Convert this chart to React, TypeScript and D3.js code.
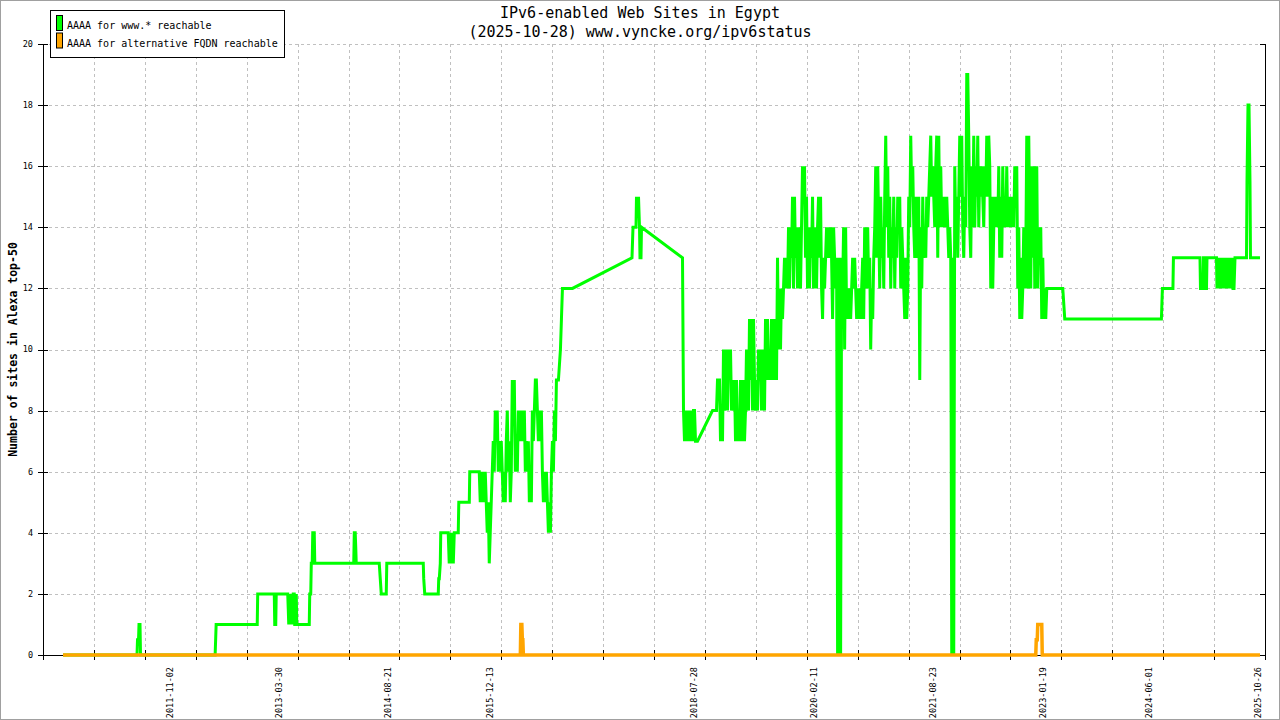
import React, { useRef, useEffect } from "react";
import * as d3 from "d3";

type Pt = [number, number]; // [decimal year, sites]

const titleLines = [
  "IPv6-enabled Web Sites in Egypt",
  "(2025-10-28) www.vyncke.org/ipv6status",
];
const yAxisTitle = "Number of sites in Alexa top-50";
const seriesNames = ["AAAA for www.* reachable", "AAAA for alternative FQDN reachable"];
const seriesColors = ["#00ff00", "#ffa500"];

const xTickLabels = [
  "2011-11-02",
  "2013-03-30",
  "2014-08-21",
  "2015-12-13",
  "2018-07-28",
  "2020-02-11",
  "2021-08-23",
  "2023-01-19",
  "2024-06-01",
  "2025-10-26",
];
const yTicks = [0, 2, 4, 6, 8, 10, 12, 14, 16, 18, 20];
const xRange = [2010.2025, 2025.9067]; // decimal years
const gridCount = 24;

// samples in the dense parts come roughly every 4.7 days
const sampleStep = 0.012862;

// www.* reachable, sparse parts as [year, value]
const wwwEarly: Pt[] = [
  [2010.46, 0], [2011.4115, 0], [2011.418, 0.5], [2011.431, 0.5], [2011.437, 1],
  [2011.45, 1], [2011.4565, 0], [2012.415, 0], [2012.428, 1], [2012.955, 1],
  [2012.961, 2], [2013.174, 2], [2013.18, 1], [2013.193, 1], [2013.199, 2],
  [2013.347, 2], [2013.354, 1.5], [2013.36, 1], [2013.373, 2], [2013.379, 1],
  [2013.392, 2], [2013.405, 1], [2013.418, 2], [2013.431, 2], [2013.437, 1],
  [2013.45, 1], [2013.457, 2], [2013.463, 1], [2013.624, 1], [2013.63, 2],
  [2013.643, 2], [2013.65, 3], [2013.662, 3], [2013.669, 4], [2013.688, 4],
  [2013.695, 3], [2014.196, 3], [2014.203, 4], [2014.215, 4], [2014.222, 3.5],
  [2014.228, 3], [2014.524, 3], [2014.537, 2.5], [2014.55, 2], [2014.614, 2],
  [2014.621, 3], [2015.09, 3], [2015.096, 2.5], [2015.109, 2], [2015.283, 2],
  [2015.289, 2.5], [2015.296, 2.5], [2015.309, 3], [2015.315, 4], [2015.411, 4],
  [2015.424, 3], [2015.437, 4], [2015.45, 3], [2015.463, 4], [2015.476, 3],
  [2015.489, 4], [2015.54, 4], [2015.547, 5], [2015.682, 5], [2015.688, 6],
  [2015.797, 6],
];

const dense2016Start = 2015.81;
const dense2016 = [
  6, 5, 6, 5, 6, 5, 6, 5, 4, 5,
  3, 4, 5, 6, 7, 6, 8, 7, 8, 6,
  7, 6, 7, 6, 5, 6, 5, 7, 8, 6,
  7, 5, 6, 9, 8, 9, 6, 7, 6, 8,
  7, 8, 7, 8, 7, 8, 6, 7, 6, 7,
  5, 6, 5, 8, 7, 8, 9, 9, 8, 7,
  8, 7, 8, 6, 5, 6, 5, 6, 5, 4,
  5, 4, 6, 7, 6, 8, 7, 9, 9, 9,
  9.5, 10, 11, 12,
];

const wwwMid: Pt[] = [
  [2017.0064, 12], [2017.7716, 13], [2017.7845, 14], [2017.8231, 14], [2017.8295, 15],
  [2017.8424, 14.5], [2017.8552, 15], [2017.8681, 14], [2017.8745, 13], [2017.8874, 13],
  [2017.8938, 14], [2018.4211, 13],
];

const dense2018Start = 2018.434;
const dense2018 = [8, 7, 8, 7, 8, 7, 8, 7, 8, 7, 8, 8, 7, 7, 7];

const wwwMid2: Pt[] = [[2018.807, 8]];

const dense2019Start = 2018.8584;
const dense2019 = [
  8, 9, 9, 9, 7, 8, 7, 10, 8, 9,
  10, 8, 10, 9, 10, 8, 9, 8, 9, 7,
  9, 7, 8, 7, 9, 8, 7, 9, 7, 8,
  10, 9, 8, 11, 9, 11, 8, 11, 9, 8,
  9, 8, 10, 9, 10, 8, 10, 9, 8, 11,
  9, 11, 9, 10, 9, 11, 10, 9, 11, 10,
  9, 13, 10, 12, 10, 12, 11, 12, 13, 12,
  13, 12, 14, 12, 14, 13, 15, 12, 15, 13,
  14, 12, 14, 13, 12, 14, 16, 15, 16, 13,
  15, 12, 14, 12, 14, 13, 15, 12, 14, 13,
  12, 14, 15, 13, 15, 12, 11, 13, 12, 13,
  14, 13, 14, 13, 14, 13, 11, 14, 13, 12,
  13, 0, 12, 13, 0, 13, 12, 14, 10, 14,
  11, 12, 11, 12, 11, 12, 13, 12, 13, 12,
  11, 12, 11, 12, 11, 12, 13, 11, 14, 12,
  13, 14, 12, 13, 10, 12, 11, 13, 14, 16,
  13, 16, 14, 12, 15, 13, 14, 12, 15, 17,
  14, 16, 13, 15, 12, 14, 13, 15, 12, 14,
  13, 15, 14, 15, 12, 14, 13, 12, 11, 13,
  11, 12, 15, 14, 17, 15, 16, 14, 13, 15,
  14, 13, 15, 9, 14, 12, 15, 13, 14, 13,
  15, 14, 15, 16, 17, 15, 16, 15, 14, 16,
  17, 13, 17, 14, 16, 14, 15, 14, 15, 14,
  15, 14, 13, 14, 13, 0, 13, 0, 16, 14,
  15, 13, 15, 17, 15, 17, 14, 13, 15, 14,
  19, 19, 17, 14, 13, 16, 14, 17, 14, 16,
  15, 17, 14, 16, 15, 16, 15, 14, 16, 15,
  17, 15, 17, 16, 12, 15, 12, 14, 15, 14,
  15, 14, 16, 13, 15, 13, 16, 14, 15, 14,
  16, 14, 15, 14, 15, 14, 15, 14, 16, 15,
  16, 12, 14, 11, 13, 11, 12, 14, 12, 13,
  17, 12, 17, 14, 12, 16, 13, 16, 12, 15,
  16, 12, 14, 13, 14, 11, 13, 11, 12, 11,
  12, 12,
];

const wwwLate: Pt[] = [
  [2023.3086, 12], [2023.3215, 11.5], [2023.3343, 11], [2024.5755, 11], [2024.5883, 12],
  [2024.7234, 12], [2024.7298, 13], [2025.0706, 13], [2025.077, 12], [2025.1092, 12],
  [2025.1156, 13], [2025.1285, 13], [2025.1349, 12], [2025.1542, 12], [2025.1607, 13],
  [2025.2828, 13],
];

const dense2025Start = 2025.2893;
const dense2025 = [12, 13, 12, 13, 12, 13, 12, 13, 12, 13, 12, 13, 12, 13, 12, 13, 12, 12, 13];

const wwwEnd: Pt[] = [
  [2025.6687, 13], [2025.6752, 15.5], [2025.688, 18], [2025.7009, 18], [2025.7137, 15.5],
  [2025.7201, 13], [2025.8423, 13],
];

// alternative FQDN reachable
const fqdnPoints: Pt[] = [
  [2010.46, 0], [2016.3376, 0], [2016.344, 1], [2016.3568, 1], [2016.3633, 0.5],
  [2016.3697, 0.5], [2016.3762, 0], [2022.9613, 0], [2022.9678, 0.5], [2022.9806, 0.5],
  [2022.987, 1], [2023.0385, 1], [2023.0449, 0], [2025.8423, 0],
];

const sampled = (start: number, values: number[]): Pt[] =>
  values.map((v, i) => [start + i * sampleStep, v] as Pt);

const wwwSeries: Pt[] = [
  ...wwwEarly,
  ...sampled(dense2016Start, dense2016),
  ...wwwMid,
  ...sampled(dense2018Start, dense2018),
  ...wwwMid2,
  ...sampled(dense2019Start, dense2019),
  ...wwwLate,
  ...sampled(dense2025Start, dense2025),
  ...wwwEnd,
];

const yearToDate = (y: number) => {
  const yr = Math.floor(y);
  const a = Date.UTC(yr, 0, 1);
  const b = Date.UTC(yr + 1, 0, 1);
  return new Date(a + (y - yr) * (b - a));
};

const App: React.FC = () => {
  const svgRef = useRef<SVGSVGElement>(null);

  useEffect(() => {
    const width = 1280;
    const height = 720;
    const left = 43;
    const right = 1265;
    const top = 44;
    const bottom = 655;
    const font = "'DejaVu Sans Mono', monospace";

    const svg = d3.select(svgRef.current);
    svg.selectAll("*").remove();

    const x = d3
      .scaleUtc()
      .domain([yearToDate(xRange[0]), yearToDate(xRange[1])])
      .range([left, right]);
    const y = d3.scaleLinear().domain([0, 20]).range([bottom, top]);

    svg.append("rect").attr("width", width).attr("height", height).attr("fill", "white");

    // vertical grid, evenly split
    const [t0, t1] = x.domain().map((d) => d.getTime());
    const gridTimes = d3.range(gridCount + 1).map((i) => new Date(t0 + (i * (t1 - t0)) / gridCount));

    const grid = svg
      .append("g")
      .attr("stroke", "#c0c0c0")
      .attr("stroke-width", 1)
      .attr("stroke-dasharray", "3,3");
    grid
      .selectAll()
      .data(gridTimes.slice(1, -1))
      .join("line")
      .attr("x1", (d) => Math.round(x(d)) + 0.5)
      .attr("x2", (d) => Math.round(x(d)) + 0.5)
      .attr("y1", top)
      .attr("y2", bottom);
    grid
      .selectAll()
      .data(yTicks.slice(1))
      .join("line")
      .attr("x1", left)
      .attr("x2", right)
      .attr("y1", (d) => Math.round(y(d)) + 0.5)
      .attr("y2", (d) => Math.round(y(d)) + 0.5);

    // axes
    const ax = svg.append("g").attr("stroke", "black").attr("stroke-width", 1);
    ax.append("line").attr("x1", left + 0.5).attr("x2", left + 0.5).attr("y1", top).attr("y2", bottom + 5);
    ax.append("line").attr("x1", right + 0.5).attr("x2", right + 0.5).attr("y1", top).attr("y2", bottom + 5);
    ax.append("line").attr("x1", left).attr("x2", right).attr("y1", bottom + 0.5).attr("y2", bottom + 0.5);
    ax.selectAll()
      .data(yTicks)
      .join("line")
      .attr("x1", left - 5)
      .attr("x2", left + 5)
      .attr("y1", (d) => Math.round(y(d)) + 0.5)
      .attr("y2", (d) => Math.round(y(d)) + 0.5);
    ax.selectAll()
      .data(yTicks)
      .join("line")
      .attr("x1", right - 5)
      .attr("x2", right)
      .attr("y1", (d) => Math.round(y(d)) + 0.5)
      .attr("y2", (d) => Math.round(y(d)) + 0.5);
    ax.selectAll()
      .data(gridTimes.slice(1, -1))
      .join("line")
      .attr("x1", (d) => Math.round(x(d)) + 0.5)
      .attr("x2", (d) => Math.round(x(d)) + 0.5)
      .attr("y1", bottom - 5)
      .attr("y2", bottom + 5);

    // tick labels
    svg
      .append("g")
      .attr("font-family", font)
      .attr("font-size", 8.5)
      .attr("text-anchor", "end")
      .selectAll()
      .data(yTicks)
      .join("text")
      .attr("x", left - 10)
      .attr("y", (d) => y(d))
      .attr("dy", "0.35em")
      .text((d) => d);

    const parse = d3.utcParse("%Y-%m-%d");
    svg
      .append("g")
      .attr("font-family", font)
      .attr("font-size", 8.5)
      .attr("text-anchor", "end")
      .selectAll()
      .data(xTickLabels)
      .join("text")
      .attr("transform", (d) => `translate(${x(parse(d)!)},${bottom + 12}) rotate(-90)`)
      .attr("dy", "0.35em")
      .text((d) => d);

    // series
    const line = d3
      .line<Pt>()
      .x((d) => x(yearToDate(d[0])))
      .y((d) => y(d[1]));

    svg
      .append("path")
      .datum(wwwSeries)
      .attr("fill", "none")
      .attr("stroke", seriesColors[0])
      .attr("stroke-width", 3)
      .attr("d", line);

    svg
      .append("path")
      .datum(fqdnPoints)
      .attr("fill", "none")
      .attr("stroke", seriesColors[1])
      .attr("stroke-width", 3.5)
      .attr("d", line);

    // titles
    svg
      .append("g")
      .attr("font-family", font)
      .attr("font-size", 15)
      .attr("text-anchor", "middle")
      .selectAll()
      .data(titleLines)
      .join("text")
      .attr("x", width / 2)
      .attr("y", (_, i) => 18 + i * 19)
      .text((d) => d);

    svg
      .append("text")
      .attr("font-family", font)
      .attr("font-size", 11.5)
      .attr("font-weight", "bold")
      .attr("text-anchor", "middle")
      .attr("transform", `translate(13,${(top + bottom) / 2}) rotate(-90)`)
      .attr("dy", "0.35em")
      .text(yAxisTitle);

    // legend
    const lg = svg.append("g");
    lg.append("rect")
      .attr("x", 50.5)
      .attr("y", 10.5)
      .attr("width", 234)
      .attr("height", 47)
      .attr("fill", "white")
      .attr("stroke", "black");
    const items = lg
      .selectAll("g")
      .data(seriesNames)
      .join("g")
      .attr("transform", (_, i) => `translate(0,${i * 17.5})`);
    items
      .append("rect")
      .attr("x", 56.5)
      .attr("y", 15.5)
      .attr("width", 6)
      .attr("height", 15)
      .attr("fill", (_, i) => seriesColors[i])
      .attr("stroke", "black");
    items
      .append("text")
      .attr("x", 67)
      .attr("y", 29)
      .attr("font-family", font)
      .attr("font-size", 10)
      .text((d) => d);

    // outer frame
    svg
      .append("rect")
      .attr("x", 0.5)
      .attr("y", 0.5)
      .attr("width", width - 1)
      .attr("height", height - 1)
      .attr("fill", "none")
      .attr("stroke", "#a0a0a0");
  }, []);

  return (
    <svg
      ref={svgRef}
      width={1280}
      height={720}
      style={{ position: "absolute", left: 0, top: 0, display: "block" }}
    />
  );
};

export default App;
